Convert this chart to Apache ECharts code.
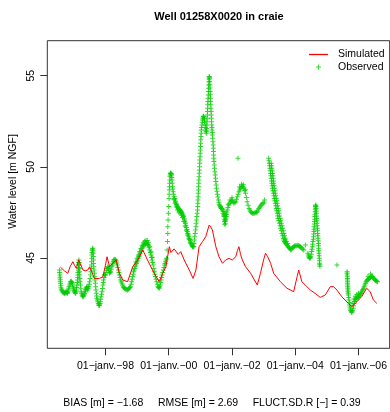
<!DOCTYPE html>
<html><head><meta charset="utf-8">
<script src="https://cdn.jsdelivr.net/npm/echarts@6/dist/echarts.min.js"></script>
<style>html,body{margin:0;padding:0;background:#fff}#c{width:390px;height:412px}</style>
</head><body><div id="c"></div>
<script>
const chartTitle = 'Well 01258X0020 in craie';
const yTitle = 'Water level [m NGF]';
const statsText = 'BIAS [m] = \u22121.68     RMSE [m] = 2.69     FLUCT.SD.R [\u2212] = 0.39';
const xTickYears = [1998, 2000, 2002, 2004, 2006];
const xTickLabels = ['01\u2212janv.\u221298', '01\u2212janv.\u221200', '01\u2212janv.\u221202', '01\u2212janv.\u221204', '01\u2212janv.\u221206'];
const yTicks = [45, 50, 55];
const seriesNames = ['Simulated', 'Observed'];

// [decimal year, water level m NGF]
const simulated = [
[1996.58,44.49],[1996.70,44.30],[1996.81,44.16],[1996.88,44.52],[1996.97,44.80],[1997.02,44.60],[1997.08,44.43],
[1997.15,44.90],[1997.18,44.93],[1997.29,44.34],[1997.36,44.30],[1997.44,44.34],[1997.50,44.52],[1997.55,44.43],
[1997.60,44.10],[1997.65,43.88],[1997.81,43.88],[1997.92,43.98],[1998.00,44.60],[1998.05,45.07],[1998.13,44.52],
[1998.23,44.71],[1998.34,44.89],[1998.44,44.16],[1998.55,43.79],[1998.70,43.70],[1998.86,44.52],[1999.02,44.89],
[1999.18,45.44],[1999.33,44.89],[1999.54,44.16],[1999.70,43.70],[1999.81,44.16],[1999.91,44.52],[2000.02,45.62],
[2000.07,45.30],[2000.12,45.26],[2000.17,45.50],[2000.23,45.44],[2000.30,45.20],[2000.38,45.35],[2000.49,44.89],
[2000.65,44.34],[2000.77,43.88],[2000.86,44.34],[2000.96,45.62],[2001.07,45.90],[2001.12,45.80],[2001.17,46.17],
[2001.22,46.10],[2001.28,46.81],[2001.33,46.70],[2001.38,46.54],[2001.49,45.62],[2001.59,45.07],[2001.70,44.71],
[2001.80,44.89],[2001.91,44.98],[2002.01,44.89],[2002.12,45.07],[2002.17,45.40],[2002.22,45.62],[2002.27,45.20],
[2002.33,44.89],[2002.43,44.52],[2002.59,44.16],[2002.80,43.52],[2002.90,44.16],[2003.00,44.90],[2003.06,45.26],
[2003.13,45.07],[2003.22,44.71],[2003.32,44.16],[2003.53,43.70],[2003.74,43.34],[2003.95,43.15],[2004.06,43.98],
[2004.11,44.34],[2004.21,43.70],[2004.37,43.43],[2004.48,43.24],[2004.63,43.06],[2004.79,42.84],[2004.95,42.97],
[2005.11,43.43],[2005.21,43.43],[2005.32,43.24],[2005.47,42.88],[2005.68,42.51],[2005.79,42.33],[2005.95,42.60],
[2006.10,42.88],[2006.26,43.34],[2006.37,43.15],[2006.47,42.70],[2006.58,42.51]
];

const observed = [
[1996.55,44.34],[1996.55,44.20],[1996.56,44.07],[1996.56,43.95],[1996.57,43.84],[1996.57,43.72],[1996.58,43.61],
[1996.59,43.50],[1996.59,43.40],[1996.60,43.30],[1996.62,43.24],[1996.63,43.20],[1996.65,43.15],[1996.66,43.12],
[1996.68,43.10],[1996.69,43.08],[1996.71,43.06],[1996.72,43.08],[1996.74,43.10],[1996.75,43.13],[1996.76,43.15],
[1996.78,43.10],[1996.79,43.06],[1996.80,43.10],[1996.81,43.15],[1996.83,43.25],[1996.84,43.34],[1996.85,43.43],
[1996.87,43.52],[1996.88,43.61],[1996.90,43.70],[1996.91,43.72],[1996.92,43.70],[1996.94,43.66],[1996.95,43.61],
[1996.96,43.52],[1996.97,43.43],[1996.99,43.34],[1997.00,43.24],[1997.01,43.20],[1997.02,43.15],[1997.04,43.10],
[1997.05,43.06],[1997.07,43.15],
[1997.08,43.24],[1997.09,43.38],[1997.10,43.52],[1997.11,43.66],[1997.12,43.79],[1997.125,43.93],[1997.13,44.07],
[1997.135,44.20],[1997.14,44.34],[1997.145,44.48],[1997.15,44.61],[1997.155,44.75],[1997.16,44.89],[1997.165,44.75],
[1997.17,44.61],[1997.175,44.43],[1997.18,44.25],[1997.185,44.07],[1997.19,43.88],[1997.20,43.70],[1997.21,43.52],
[1997.22,43.34],[1997.23,43.15],[1997.245,43.06],[1997.26,42.97],[1997.275,42.92],[1997.29,42.88],[1997.305,42.92],
[1997.32,42.97],[1997.33,43.02],[1997.34,43.06],[1997.355,43.15],[1997.37,43.24],[1997.38,43.29],[1997.39,43.34],
[1997.405,43.39],[1997.42,43.43],[1997.43,43.34],[1997.44,43.24],[1997.455,43.34],[1997.47,43.43],[1997.485,43.56],
[1997.50,43.70],[1997.515,43.88],
[1997.53,44.07],[1997.54,44.25],[1997.55,44.43],[1997.555,44.61],[1997.56,44.80],[1997.565,44.98],[1997.57,45.17],
[1997.575,45.30],[1997.58,45.44],[1997.59,45.50],[1997.60,45.53],[1997.605,45.40],[1997.61,45.26],[1997.615,45.08],
[1997.62,44.89],[1997.625,44.70],[1997.63,44.52],[1997.64,44.34],[1997.65,44.16],[1997.66,43.97],[1997.67,43.79],
[1997.68,43.61],[1997.69,43.43],[1997.70,43.25],[1997.71,43.06],[1997.72,42.92],[1997.73,42.79],[1997.745,42.70],
[1997.76,42.60],[1997.775,42.51],[1997.79,42.42],[1997.80,42.40],[1997.81,42.42],[1997.825,42.51],[1997.84,42.60],
[1997.85,42.74],[1997.86,42.88],[1997.875,43.01],[1997.89,43.15],[1997.905,43.33],[1997.92,43.52],[1997.93,43.65],
[1997.94,43.79],[1997.955,43.93],[1997.97,44.07],[1997.985,44.07],
[1998.00,44.07],[1998.02,44.20],[1998.04,44.34],[1998.055,44.43],[1998.07,44.52],[1998.085,44.48],[1998.10,44.43],
[1998.115,44.30],[1998.13,44.16],[1998.145,44.20],[1998.16,44.25],[1998.18,44.38],[1998.20,44.52],[1998.215,44.61],
[1998.23,44.71],[1998.245,44.80],[1998.26,44.89],[1998.28,44.91],[1998.30,44.93],[1998.32,44.89],[1998.34,44.84],
[1998.355,44.73],[1998.37,44.61],[1998.39,44.48],[1998.41,44.34],[1998.425,44.20],[1998.44,44.07],[1998.46,43.93],
[1998.48,43.79],[1998.50,43.70],[1998.52,43.61],[1998.54,43.52],[1998.56,43.43],[1998.58,43.38],[1998.60,43.34],
[1998.625,43.31],[1998.65,43.29],[1998.675,43.26],[1998.70,43.24],[1998.725,43.29],[1998.75,43.34],[1998.77,43.38],
[1998.79,43.43],[1998.81,43.56],
[1998.83,43.70],[1998.845,43.84],[1998.86,43.98],[1998.875,44.11],[1998.89,44.25],[1998.905,44.34],[1998.92,44.43],
[1998.94,44.52],[1998.96,44.61],[1998.98,44.70],[1999.00,44.80],[1999.02,44.89],[1999.04,44.98],[1999.06,45.08],
[1999.08,45.17],[1999.10,45.26],[1999.12,45.35],[1999.14,45.44],[1999.16,45.53],[1999.18,45.60],[1999.20,45.67],
[1999.22,45.72],[1999.24,45.76],[1999.26,45.78],[1999.28,45.80],[1999.30,45.81],[1999.32,45.80],[1999.34,45.74],
[1999.36,45.67],[1999.38,45.56],[1999.40,45.44],[1999.42,45.30],[1999.44,45.17],[1999.455,45.03],[1999.47,44.89],
[1999.49,44.75],[1999.51,44.61],[1999.53,44.43],[1999.55,44.25],[1999.565,44.11],[1999.58,43.98],[1999.60,43.84],
[1999.62,43.70],[1999.64,43.56],[1999.66,43.43],[1999.68,43.38],[1999.70,43.34],[1999.715,43.43],[1999.73,43.52],
[1999.745,43.66],[1999.76,43.79],[1999.775,43.93],[1999.79,44.07],[1999.81,44.20],[1999.83,44.34],[1999.85,44.48],
[1999.87,44.61],[1999.885,44.70],[1999.90,44.80],[1999.915,44.89],[1999.93,44.98],
[1998.96,44.78],[1999.00,44.98],[1999.04,45.16],[1999.08,45.34],[1999.12,45.52],[1999.16,45.70],[1999.20,45.84],
[1999.24,45.92],[1999.28,45.96],[1999.32,45.96],[1999.36,45.84],[1999.40,45.62],[1999.44,45.34],[1999.48,45.04],
[1999.95,45.44],[1999.96,45.90],[1999.97,46.35],[1999.97,46.72],[1999.98,47.08],[1999.99,47.45],[2000.00,47.82],
[2000.01,48.27],
[2000.015,48.50],[2000.02,48.73],[2000.025,48.91],[2000.03,49.10],[2000.035,49.28],[2000.04,49.46],[2000.045,49.55],
[2000.05,49.64],[2000.06,49.66],[2000.07,49.64],[2000.08,49.60],[2000.09,49.55],[2000.095,49.42],[2000.10,49.28],
[2000.11,49.10],[2000.12,48.91],[2000.13,48.78],[2000.14,48.64],[2000.155,48.50],[2000.17,48.36],[2000.185,48.27],
[2000.20,48.18],[2000.215,48.09],[2000.23,48.00],[2000.245,47.93],[2000.26,47.86],[2000.275,47.82],[2000.29,47.77],
[2000.305,47.72],[2000.32,47.68],[2000.335,47.65],[2000.35,47.63],[2000.365,47.60],[2000.38,47.58],[2000.395,47.54],
[2000.41,47.50],[2000.425,47.45],[2000.44,47.40],[2000.455,47.33],[2000.47,47.27],[2000.485,47.18],[2000.50,47.08],
[2000.515,46.99],[2000.53,46.90],[2000.545,46.79],[2000.56,46.68],[2000.575,46.56],[2000.59,46.45],[2000.605,46.35],
[2000.62,46.26],[2000.635,46.17],[2000.65,46.08],[2000.665,46.01],[2000.68,45.95],[2000.695,45.87],[2000.71,45.80],
[2000.725,45.73],[2000.74,45.67],[2000.75,45.64],[2000.76,45.62],[2000.77,45.62],
[2000.16,48.22],[2000.20,48.02],[2000.24,47.80],[2000.28,47.64],[2000.32,47.52],[2000.36,47.45],[2000.40,47.36],
[2000.44,47.22],[2000.48,47.00],[2000.52,46.74],[2000.56,46.50],[2000.60,46.26],[2000.64,46.04],[2000.68,45.82],
[2000.79,45.62],[2000.80,45.80],[2000.81,45.99],[2000.82,46.17],[2000.835,46.35],[2000.85,46.54],[2000.86,46.72],
[2000.87,46.90],[2000.88,47.08],[2000.89,47.27],[2000.90,47.45],[2000.91,47.63],[2000.915,47.82],[2000.92,48.00],
[2000.925,48.18],[2000.93,48.36],[2000.935,48.55],[2000.94,48.73],[2000.945,48.91],[2000.95,49.10],[2000.955,49.28],
[2000.96,49.46],[2000.965,49.65],[2000.97,49.83],[2000.975,50.01],[2000.98,50.20],[2000.985,50.38],[2000.99,50.56],
[2000.995,50.75],[2001.00,50.93],[2001.005,51.11],[2001.01,51.29],[2001.015,51.48],[2001.02,51.66],[2001.025,51.84],
[2001.03,52.02],[2001.04,52.16],[2001.05,52.30],[2001.06,52.44],[2001.07,52.57],[2001.08,52.66],[2001.09,52.75],
[2001.10,52.77],[2001.11,52.75],[2001.12,52.66],[2001.13,52.57],[2001.14,52.44],[2001.15,52.30],[2001.16,52.16],
[2001.17,52.02],[2001.18,51.93],[2001.19,51.84],[2001.195,51.97],[2001.20,52.11],[2001.205,52.30],[2001.21,52.48],
[2001.215,52.66],[2001.22,52.84],[2001.225,53.03],[2001.23,53.21],[2001.235,53.40],[2001.24,53.58],[2001.245,53.76],
[2001.25,53.94],[2001.255,54.13],[2001.26,54.31],[2001.265,54.49],[2001.27,54.67],[2001.275,54.81],[2001.28,54.95],
[2001.285,54.92],[2001.29,54.86],[2001.295,54.68],[2001.30,54.50],[2001.305,54.32],[2001.31,54.13],[2001.315,53.95],
[2001.32,53.76],[2001.325,53.58],[2001.33,53.40],[2001.335,53.22],[2001.34,53.03],[2001.345,52.85],[2001.35,52.66],
[2001.355,52.48],[2001.36,52.30],[2001.365,52.16],[2001.37,52.02],[2001.375,51.89],[2001.38,51.75],[2001.39,51.57],
[2001.40,51.38],[2001.405,51.20],[2001.41,51.02],[2001.415,50.84],[2001.42,50.65],[2001.425,50.47],[2001.43,50.29],
[2001.44,50.10],[2001.45,49.92],[2001.46,49.73],[2001.47,49.55],[2001.48,49.37],[2001.49,49.19],[2001.50,49.00],
[2001.51,48.82],[2001.525,48.66],[2001.54,48.50],[2001.555,48.34],[2001.57,48.18],[2001.585,48.06],[2001.60,47.95],
[2001.615,47.88],[2001.63,47.82],[2001.645,47.77],[2001.66,47.72],
[2001.68,47.72],[2001.70,47.68],[2001.71,47.58],[2001.72,47.45],[2001.735,47.36],[2001.75,47.27],[2001.76,47.10],
[2001.77,47.00],[2001.78,46.99],[2001.79,47.05],[2001.80,47.12],[2001.81,47.20],[2001.82,47.27],[2001.83,47.40],
[2001.84,47.52],[2001.85,47.63],[2001.875,47.77],[2001.90,47.91],[2001.93,48.00],[2001.96,48.09],[2001.985,48.14],
[2002.01,48.18],[2002.035,48.09],[2002.06,48.00],[2002.09,48.04],[2002.12,48.09],[2002.145,48.22],[2002.17,48.36],
[2002.195,48.50],[2002.22,48.64],[2002.245,48.73],[2002.27,48.82],[2002.30,48.90],[2002.33,48.95],[2002.355,48.90],
[2002.38,48.82],[2002.405,48.70],[2002.43,48.55],[2002.455,48.32],[2002.48,48.09],[2002.51,47.90],[2002.54,47.72],
[2002.565,47.63],[2002.59,47.54],[2002.615,47.50],[2002.64,47.45],[2002.665,47.45],[2002.69,47.45],[2002.72,47.47],
[2002.75,47.49],[2002.775,47.51],[2002.80,47.54],[2002.825,47.63],[2002.85,47.72],[2002.875,47.79],[2002.90,47.85],
[2002.925,47.91],[2002.95,47.96],[2002.98,48.00],[2003.01,48.03],[2003.03,48.18],
[2001.74,47.55],[2001.76,47.40],[2001.78,47.30],[2001.80,47.40],[2001.77,46.85],[2001.79,46.88],
[2001.88,47.95],[2001.94,48.18],[2002.00,48.30],[2002.24,48.90],[2002.30,49.05],[2002.36,49.02],[2002.42,48.75],
[2002.19,50.47],
[2003.16,50.47],[2003.17,50.33],[2003.18,50.20],[2003.19,50.06],[2003.20,49.92],[2003.21,49.78],[2003.22,49.64],
[2003.23,49.51],[2003.24,49.37],[2003.25,49.23],[2003.26,49.10],[2003.27,48.96],[2003.28,48.82],[2003.295,48.69],
[2003.31,48.55],[2003.325,48.41],[2003.34,48.27],[2003.355,48.14],[2003.37,48.00],[2003.385,47.86],[2003.40,47.72],
[2003.415,47.59],[2003.43,47.45],[2003.445,47.31],[2003.46,47.17],[2003.48,47.04],[2003.50,46.90],[2003.52,46.77],
[2003.54,46.63],[2003.56,46.49],[2003.58,46.35],[2003.60,46.22],[2003.62,46.08],[2003.64,45.99],[2003.66,45.90],
[2003.68,45.85],[2003.70,45.80],[2003.72,45.76],[2003.74,45.71],[2003.76,45.67],[2003.78,45.62],[2003.80,45.58],
[2003.82,45.53],[2003.84,45.49],[2003.86,45.44],[2003.88,45.49],[2003.90,45.53],[2003.925,45.58],[2003.95,45.62],
[2003.975,45.65],[2004.00,45.67],[2004.03,45.67],[2004.06,45.67],[2004.085,45.70],[2004.11,45.67],[2004.135,45.65],
[2004.16,45.62],[2004.185,45.58],[2004.21,45.53],[2004.24,45.48],[2004.27,45.44],
[2003.24,50.20],[2003.25,50.06],[2003.26,49.92],[2003.27,49.78],[2003.28,49.64],[2003.29,49.51],[2003.30,49.37],
[2003.31,49.23],[2003.32,49.10],[2003.33,48.96],[2003.34,48.82],[2003.355,48.69],[2003.37,48.55],[2003.385,48.41],
[2003.40,48.27],[2003.415,48.14],[2003.43,48.00],[2003.445,47.86],[2003.46,47.72],[2003.475,47.59],[2003.49,47.45],
[2003.505,47.31],[2003.52,47.17],[2003.54,47.04],[2003.56,46.90],[2003.58,46.77],[2003.60,46.63],[2003.62,46.49],
[2003.64,46.35],[2003.66,46.22],[2003.68,46.08],[2003.70,45.99],[2003.72,45.90],[2003.76,45.80],
[2004.32,45.71],
[2004.40,45.26],[2004.415,45.17],[2004.43,45.07],[2004.445,45.02],[2004.46,44.98],[2004.475,45.02],[2004.49,45.07],
[2004.505,45.21],[2004.52,45.35],[2004.53,45.48],[2004.54,45.62],[2004.55,45.76],[2004.56,45.90],[2004.57,46.03],
[2004.58,46.17],[2004.585,46.31],[2004.59,46.45],[2004.595,46.58],[2004.60,46.72],[2004.605,46.86],[2004.61,47.00],
[2004.615,47.13],[2004.62,47.27],[2004.625,47.40],[2004.63,47.54],[2004.635,47.67],[2004.64,47.80],[2004.645,47.86],
[2004.65,47.91],[2004.655,47.82],[2004.66,47.72],[2004.665,47.58],[2004.67,47.45],[2004.675,47.31],[2004.68,47.17],
[2004.685,47.04],[2004.69,46.90],[2004.695,46.77],[2004.70,46.63],[2004.705,46.49],[2004.71,46.35],[2004.715,46.22],
[2004.72,46.08],[2004.725,45.94],[2004.73,45.80],[2004.735,45.67],[2004.74,45.53],[2004.745,45.40],[2004.75,45.26],
[2004.755,45.12],[2004.76,44.98],[2004.765,44.85],[2004.77,44.71],[2004.775,44.63],[2004.78,44.55],
[2005.32,44.61],
[2005.64,44.25],[2005.64,44.16],[2005.645,44.07],[2005.645,43.97],[2005.65,43.88],[2005.65,43.79],[2005.655,43.70],
[2005.655,43.61],[2005.66,43.52],[2005.66,43.43],[2005.665,43.34],[2005.665,43.24],[2005.67,43.15],[2005.675,43.06],
[2005.68,42.97],[2005.69,42.84],[2005.70,42.70],[2005.71,42.56],[2005.72,42.42],[2005.73,42.31],[2005.74,42.20],
[2005.755,42.12],[2005.77,42.05],[2005.785,42.03],[2005.80,42.05],[2005.815,42.14],[2005.83,42.24],[2005.845,42.38],
[2005.86,42.51],[2005.875,42.61],[2005.89,42.70],[2005.91,42.75],[2005.93,42.79],[2005.95,42.82],[2005.97,42.84],
[2005.985,42.86],[2006.00,42.88],[2006.02,42.93],[2006.04,42.97],[2006.06,43.02],[2006.08,43.06],[2006.10,43.13],
[2006.12,43.20],[2006.14,43.27],[2006.16,43.34],[2006.18,43.43],[2006.20,43.52],[2006.22,43.61],[2006.24,43.70],
[2006.26,43.75],[2006.28,43.79],[2006.30,43.82],[2006.32,43.84],[2006.34,43.88],[2006.36,43.93],[2006.38,43.96],
[2006.40,43.98],[2006.42,44.00],[2006.44,43.98],[2006.46,43.93],[2006.48,43.88],[2006.50,43.84],[2006.52,43.79],
[2006.54,43.77],[2006.56,43.75],[2006.58,43.72],[2006.60,43.70],
[2005.82,42.50],[2005.86,42.75],[2005.90,42.90],[2005.95,43.00],[2006.00,43.06],[2006.30,44.00],[2006.38,44.12]
];

const FONT = '"Liberation Sans", Arial, Helvetica, sans-serif';
const PLUS = 'path://M2,0H3V2H5V3H3V5H2V3H0V2H2Z';
const LINEICON = 'path://M0,0H19V1.3H0Z';

const chart = echarts.init(document.getElementById('c'), null, {renderer: 'canvas'});
chart.setOption({
  animation: false,
  backgroundColor: '#ffffff',
  title: {
    text: chartTitle, left: 219, top: 11.5, padding: 0, textAlign: 'center',
    textStyle: {fontFamily: FONT, fontSize: 11, fontWeight: 'bold', color: '#000'}
  },
  legend: {
    orient: 'vertical', left: 309, top: 48.5, padding: 0, itemGap: 0.5,
    itemWidth: 19, itemHeight: 5, symbolKeepAspect: true,
    textStyle: {fontFamily: FONT, fontSize: 10.5, color: '#000', lineHeight: 12, padding: [0, 0, 0, 5]},
    data: [{name: seriesNames[0], icon: LINEICON}, {name: seriesNames[1], icon: PLUS}]
  },
  grid: {left: 47.3, top: 40.7, right: -1, bottom: 63.7, show: true, borderColor: '#333', borderWidth: 1, containLabel: false},
  xAxis: {
    type: 'value', min: 1996.161, max: 2006.986,
    axisLine: {show: false, onZero: false},
    splitLine: {show: false},
    axisTick: {show: true, length: 7, lineStyle: {color: '#333'}, customValues: xTickYears},
    axisLabel: {
      customValues: xTickYears, margin: 12, color: '#000', fontFamily: FONT, fontSize: 10.5,
      formatter: v => xTickLabels[xTickYears.indexOf(Math.round(v))] || ''
    }
  },
  yAxis: {
    type: 'value', min: 40.047, max: 56.92,
    axisLine: {show: false, onZero: false},
    splitLine: {show: false},
    axisTick: {show: true, length: 7, lineStyle: {color: '#333'}, customValues: yTicks},
    axisLabel: {customValues: yTicks, rotate: 90, margin: 11, color: '#000', fontFamily: FONT, fontSize: 10.5}
  },
  graphic: [
    {type: 'text', x: 13, y: 181.5, rotation: Math.PI / 2,
     style: {text: yTitle, align: 'center', verticalAlign: 'middle', textAlign: 'center', textVerticalAlign: 'middle', fontFamily: FONT, fontSize: 10.5, fill: '#000'}},
    {type: 'text', x: 212, y: 403,
     style: {text: statsText, align: 'center', verticalAlign: 'middle', textAlign: 'center', textVerticalAlign: 'middle', fontFamily: FONT, fontSize: 10.5, fill: '#000'}}
  ],
  series: [
    {name: seriesNames[0], type: 'line', data: simulated, showSymbol: false, symbol: 'none', z: 3,
     color: '#ff0000', lineStyle: {color: '#ff0000', width: 1}},
    {name: seriesNames[1], type: 'scatter', data: observed, symbol: PLUS, symbolSize: 5, z: 2,
     color: '#00cd00', itemStyle: {color: '#00cd00'}, large: false}
  ]
});
</script>
</body></html>
